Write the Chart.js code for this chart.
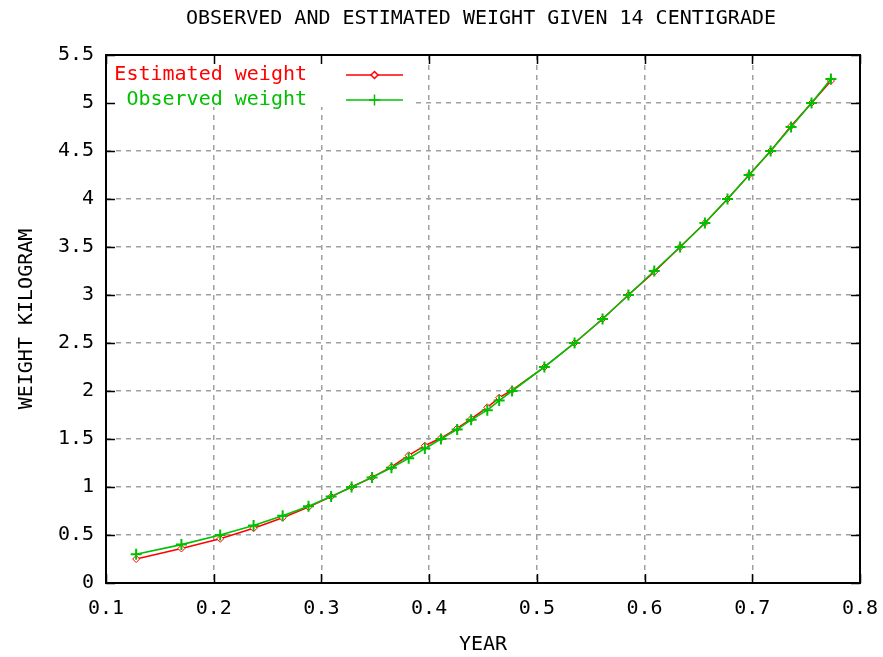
<!DOCTYPE html>
<html>
<head>
<meta charset="utf-8">
<title>Observed and estimated weight</title>
<script src="https://cdn.jsdelivr.net/npm/chart.js@4/dist/chart.umd.min.js"></script>
<style>
  html, body { margin: 0; padding: 0; background: #ffffff; }
  #wrap { width: 883px; height: 657px; }
</style>
</head>
<body>
<div id="wrap"><canvas id="chart" width="883" height="657"></canvas></div>
<script>
// Age in years at each weighing
const years = [0.128, 0.170, 0.206, 0.237, 0.264, 0.288, 0.309, 0.328, 0.347, 0.365,
               0.381, 0.396, 0.411, 0.426, 0.439, 0.454, 0.465, 0.477, 0.507, 0.535,
               0.561, 0.585, 0.609, 0.633, 0.656, 0.677, 0.697, 0.717, 0.736, 0.755, 0.773];
// Measured weight (kg)
const observedWeight = [0.30, 0.40, 0.50, 0.60, 0.70, 0.80, 0.90, 1.00, 1.10, 1.20,
                        1.30, 1.40, 1.50, 1.60, 1.70, 1.80, 1.90, 2.00, 2.25, 2.50,
                        2.75, 3.00, 3.25, 3.50, 3.75, 4.00, 4.25, 4.50, 4.75, 5.00, 5.25];
// Model estimate (kg)
const estimatedWeight = [0.25, 0.36, 0.46, 0.57, 0.68, 0.79, 0.90, 1.00, 1.10, 1.21,
                         1.33, 1.43, 1.51, 1.61, 1.71, 1.83, 1.93, 2.01, 2.25, 2.50,
                         2.75, 3.00, 3.24, 3.50, 3.75, 4.00, 4.25, 4.50, 4.76, 5.00, 5.23];
const xTickValues = [0.1, 0.2, 0.3, 0.4, 0.5, 0.6, 0.7, 0.8];
const xTickLabels = ['0.1', '0.2', '0.3', '0.4', '0.5', '0.6', '0.7', '0.8'];
const yTickValues = [0, 0.5, 1, 1.5, 2, 2.5, 3, 3.5, 4, 4.5, 5, 5.5];
const yTickLabels = ['0', '0.5', '1', '1.5', '2', '2.5', '3', '3.5', '4', '4.5', '5', '5.5'];
const chartTitle = 'OBSERVED AND ESTIMATED WEIGHT GIVEN 14 CENTIGRADE';
const xTitle = 'YEAR';
const yTitle = 'WEIGHT KILOGRAM';

const FONT = "'DejaVu Sans Mono', 'Liberation Mono', monospace";
const RED = '#ff0000';
const GREEN = '#00c000';

Chart.defaults.font.family = FONT;
Chart.defaults.font.size = 20;
Chart.defaults.color = '#000000';

const toPoints = ys => years.map((x, i) => ({ x, y: ys[i] }));

// Title centred over the plot area
const titlePlugin = {
  id: 'plotTitle',
  afterDraw(chart) {
    const { ctx, chartArea: a } = chart;
    ctx.save();
    ctx.font = '20px ' + FONT;
    ctx.fillStyle = '#000';
    ctx.textAlign = 'center';
    ctx.textBaseline = 'middle';
    ctx.fillText(chartTitle, (a.left + a.right) / 2 - 2, 19);
    ctx.restore();
  }
};

// Key in the upper-left corner: label, then a line sample with its marker
const keyPlugin = {
  id: 'plotKey',
  beforeDatasetsDraw(chart) {
    const { ctx, chartArea: a } = chart;
    ctx.save();
    ctx.fillStyle = '#ffffff';
    ctx.fillRect(a.left + 1, a.top + 1, 305, 51);
    ctx.font = '20px ' + FONT;
    ctx.textAlign = 'right';
    ctx.textBaseline = 'middle';
    chart.data.datasets.forEach((ds, i) => {
      const rowY = a.top + 20 + i * 25;
      ctx.fillStyle = ds.borderColor;
      ctx.fillText(ds.label, a.left + 201, rowY);
      ctx.strokeStyle = ds.borderColor;
      ctx.lineWidth = 1.5;
      ctx.beginPath();
      ctx.moveTo(a.left + 240, rowY);
      ctx.lineTo(a.left + 297, rowY);
      ctx.stroke();
      ctx.fillStyle = ds.pointBackgroundColor || ds.borderColor;
      Chart.helpers.drawPoint(ctx, {
        pointStyle: ds.pointStyle,
        radius: ds.pointRadius,
        borderWidth: ds.pointBorderWidth,
        rotation: 0
      }, a.left + 268.5, rowY);
    });
    ctx.restore();
  }
};

// Frame with inward tick marks on all four sides
const framePlugin = {
  id: 'frame',
  afterDraw(chart) {
    const { ctx, chartArea: a, scales: { x, y } } = chart;
    const len = 9;
    ctx.save();
    ctx.strokeStyle = '#000';
    ctx.lineWidth = 1.5;
    ctx.beginPath();
    x.ticks.forEach(t => {
      const px = Math.round(x.getPixelForValue(t.value)) + 0.5;
      ctx.moveTo(px, a.bottom); ctx.lineTo(px, a.bottom - len);
      ctx.moveTo(px, a.top); ctx.lineTo(px, a.top + len);
    });
    y.ticks.forEach(t => {
      const py = Math.round(y.getPixelForValue(t.value)) + 0.5;
      ctx.moveTo(a.left, py); ctx.lineTo(a.left + len, py);
      ctx.moveTo(a.right, py); ctx.lineTo(a.right - len, py);
    });
    ctx.stroke();
    ctx.lineWidth = 2;
    ctx.strokeRect(a.left, a.top, a.right - a.left, a.bottom - a.top);
    ctx.restore();
  }
};

new Chart(document.getElementById('chart'), {
  type: 'scatter',
  data: {
    datasets: [
      {
        label: 'Estimated weight',
        data: toPoints(estimatedWeight),
        order: 2,
        showLine: true,
        borderColor: RED,
        backgroundColor: RED,
        borderWidth: 1.5,
        pointStyle: 'rectRot',
        pointRadius: 3.5,
        pointBorderWidth: 1,
        pointBackgroundColor: '#ffffff',
        pointBorderColor: RED
      },
      {
        label: 'Observed weight',
        data: toPoints(observedWeight),
        order: 1,
        showLine: true,
        borderColor: GREEN,
        backgroundColor: GREEN,
        borderWidth: 1.6,
        pointStyle: 'cross',
        pointRadius: 5.5,
        pointBorderWidth: 2,
        pointBorderColor: GREEN
      }
    ]
  },
  options: {
    responsive: false,
    animation: false,
    devicePixelRatio: 1,
    layout: { padding: { top: 55, right: 23, bottom: 0, left: 0 } },
    plugins: {
      legend: { display: false },
      title: { display: false },
      tooltip: { enabled: false }
    },
    scales: {
      x: {
        type: 'linear',
        min: 0.1,
        max: 0.8,
        afterBuildTicks: s => { s.ticks = xTickValues.map(v => ({ value: v })); },
        afterFit: s => { s.height = 74; s.paddingLeft = 0; s.paddingRight = 0; },
        ticks: {
          padding: 14,
          maxRotation: 0,
          callback: v => xTickLabels[xTickValues.indexOf(v)]
        },
        grid: { color: '#a0a0a0', lineWidth: 1.5, drawTicks: false },
        border: { display: false, dash: [5, 5] },
        title: { display: true, text: xTitle, padding: { top: 0, bottom: 0 } }
      },
      y: {
        type: 'linear',
        min: 0,
        max: 5.5,
        afterBuildTicks: s => { s.ticks = yTickValues.map(v => ({ value: v })); },
        afterFit: s => { s.width = 106; s.paddingTop = 0; s.paddingBottom = 0; },
        ticks: {
          padding: 12,
          callback: v => yTickLabels[yTickValues.indexOf(v)]
        },
        grid: { color: '#a0a0a0', lineWidth: 1.5, drawTicks: false },
        border: { display: false, dash: [5, 5] },
        title: { display: true, text: yTitle, padding: { top: 15, bottom: 0 } }
      }
    }
  },
  plugins: [keyPlugin, framePlugin, titlePlugin]
});
</script>
</body>
</html>
